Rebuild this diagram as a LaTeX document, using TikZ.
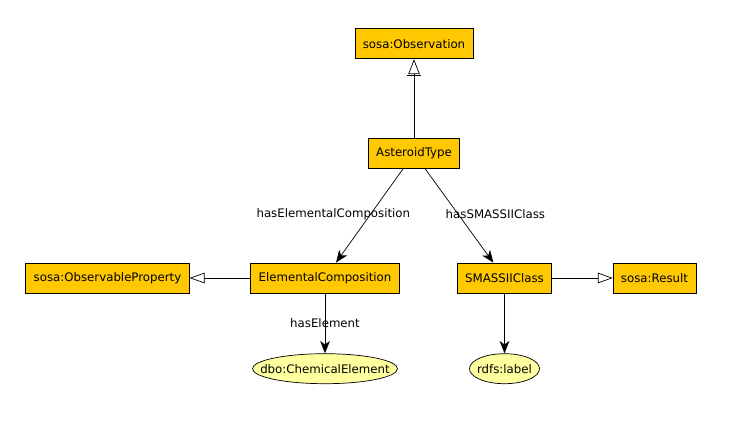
\documentclass[tikz,border=0pt]{standalone}
\usepackage{fontspec}
\setmainfont{DejaVu Sans}
\usetikzlibrary{positioning,arrows.meta,shapes.geometric}
\definecolor{clsfill}{HTML}{FFC800}
\definecolor{litfill}{HTML}{FFFF9F}
\newcommand{\smallfont}{\fontsize{6.7}{8}\selectfont}
\tikzset{->,>={Stealth[length=7pt,width=5.5pt,inset=2pt]},
line width=0.6pt,
el/.style={font=\smallfont},
cls/.style={rectangle,draw,fill=clsfill,inner xsep=4.5pt,minimum height=0.6cm,font=\smallfont},
lit/.style={ellipse,draw,fill=litfill,inner sep=0pt,minimum height=0.6cm,font=\smallfont},
sub/.style={-{Triangle[open,fill=white,length=8.5pt,width=6pt]}},
subbar/.style={-{Bar[width=8pt,sep=0.5pt]Triangle[open,fill=white,length=8.5pt,width=6.5pt]}},
}

\begin{document}
\begin{tikzpicture}
	\useasboundingbox (0,0) rectangle (14.62,8.46);

	\node[cls] at (8.28,5.39) (ast) {AsteroidType};
	\node[cls,above=1.58cm of ast] (obs) {sosa:Observation};
	\node[cls] at (6.50,2.90) (elc) {ElementalComposition};
	\node[cls] at (10.09,2.90) (sma) {SMASSIIClass};
	\node[cls] at (2.15,2.90) (obp) {sosa:ObservableProperty};
	\node[cls] at (13.09,2.90) (res) {sosa:Result};
	\node[lit,minimum width=2.9cm,below=1.2cm of elc] (che) {\makebox[0pt]{dbo:ChemicalElement}};
	\node[lit,minimum width=1.4cm,below=1.2cm of sma] (lab) {\makebox[0pt]{rdfs:label}};

	\path
	(ast) edge [subbar] (obs)
	(ast) edge node[el,pos=0.48,xshift=-0.75cm] {hasElementalComposition} (elc)
	(ast) edge node[el,pos=0.48,xshift=0.75cm] {hasSMASSIIClass} (sma)
	(elc) edge [sub] (obp)
	(sma) edge [sub] (res)
	(elc) edge node[el] {hasElement} (che)
	(sma) edge (lab)
	;
\end{tikzpicture}
\end{document}
